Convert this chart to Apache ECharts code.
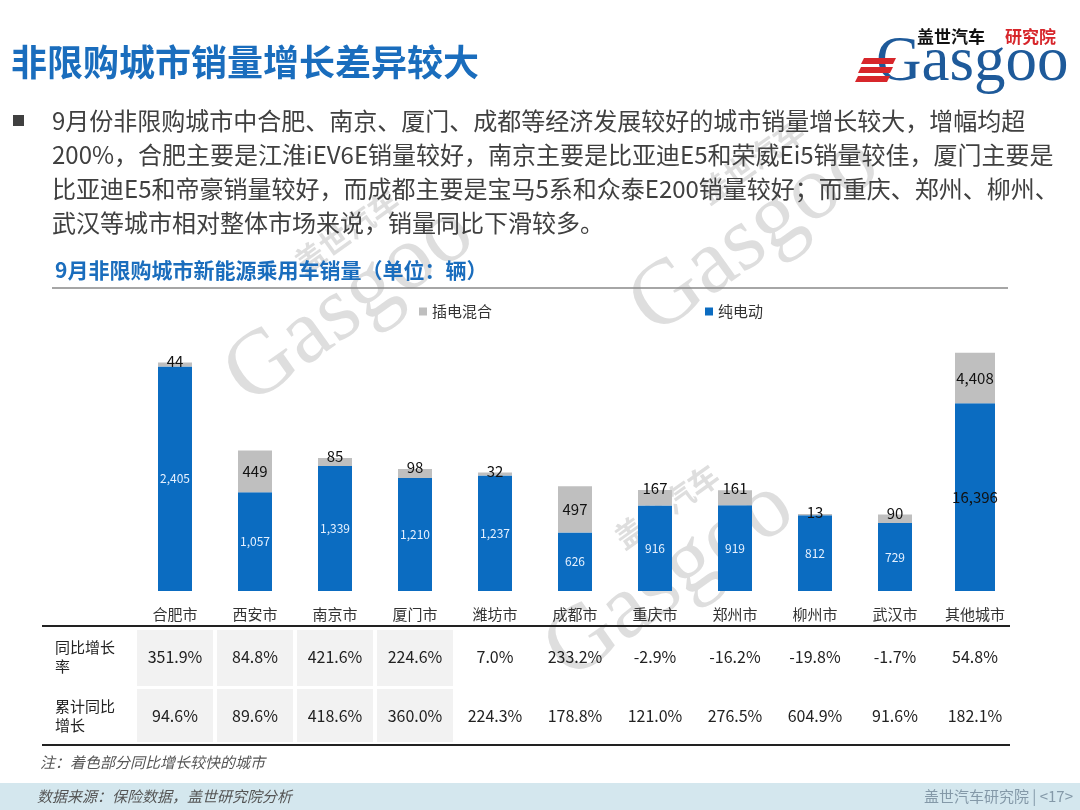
<!DOCTYPE html>
<html><head><meta charset="utf-8">
<script src="https://cdn.jsdelivr.net/npm/echarts@6/dist/echarts.min.js"></script>
<style>html,body{margin:0;padding:0;background:#fff}#c{width:1080px;height:810px}</style>
</head><body><div id="c"></div>
<script>
// ---------- data ----------
const categories = ['合肥市','西安市','南京市','厦门市','潍坊市','成都市','重庆市','郑州市','柳州市','武汉市','其他城市'];
const bevValues  = [2405, 1057, 1339, 1210, 1237, 626, 916, 919, 812, 729, 16396];
const phevValues = [44, 449, 85, 98, 32, 497, 167, 161, 13, 90, 4408];
const yoyGrowth  = [351.9, 84.8, 421.6, 224.6, 7.0, 233.2, -2.9, -16.2, -19.8, -1.7, 54.8];
const cumGrowth  = [94.6, 89.6, 418.6, 360.0, 224.3, 178.8, 121.0, 276.5, 604.9, 91.6, 182.1];
const highlightedCities = ['合肥市','西安市','南京市','厦门市'];
const separateScaleCategory = '其他城市';
const rowLabels = ['同比增长\n率', '累计同比\n增长'];
const seriesNames = ['纯电动', '插电混合'];
const titleText = '非限购城市销量增长差异较大';
const chartTitle = '9月非限购城市新能源乘用车销量（单位：辆）';
const bulletLines = [
  '9月份非限购城市中合肥、南京、厦门、成都等经济发展较好的城市销量增长较大，增幅均超',
  '200%，合肥主要是江淮iEV6E销量较好，南京主要是比亚迪E5和荣威Ei5销量较佳，厦门主要是',
  '比亚迪E5和帝豪销量较好，而成都主要是宝马5系和众泰E200销量较好；而重庆、郑州、柳州、',
  '武汉等城市相对整体市场来说，销量同比下滑较多。'
];
const noteText = '注：着色部分同比增长较快的城市';
const sourceText = '数据来源：保险数据，盖世研究院分析';
const pageText = '盖世汽车研究院 | <17>';

// ---------- chart ----------
const FONT = '"Noto Sans CJK SC","Noto Sans",sans-serif';
const BLUE = '#0b6cc1', GRAY = '#bfbfbf';
const fmt = v => Number(v).toLocaleString('en-US');
const isSep = i => categories[i] === separateScaleCategory;

const mainBev = bevValues.map((v, i) => isSep(i) ? '-' : v);
const mainPhev = phevValues.map((v, i) => isSep(i) ? '-' : ({
  value: v,
  label: v < 300 ? { position: 'top', distance: -6 } : { position: 'inside' }
}));
const sepBev = bevValues.map((v, i) => isSep(i) ? v : '-');
const sepPhev = phevValues.map((v, i) => isSep(i) ? v : '-');

const chart = echarts.init(document.getElementById('c'), null, { renderer: 'canvas' });
const labelDark = { show: true, color: '#111', fontSize: 15, fontFamily: FONT, formatter: p => fmt(p.value) };

chart.setOption({
  animation: false,
  textStyle: { fontFamily: FONT },
  grid: { left: 135, right: 65, top: 339, bottom: 219 },
  legend: [
    { data: ['插电混合'], left: 414, top: 299, icon: 'rect', itemWidth: 8, itemHeight: 8, itemGap: 4,
      selectedMode: false, textStyle: { fontSize: 15, color: '#333', fontFamily: FONT } },
    { data: ['纯电动'], left: 700, top: 299, icon: 'rect', itemWidth: 8, itemHeight: 8, itemGap: 4,
      selectedMode: false, textStyle: { fontSize: 15, color: '#333', fontFamily: FONT } }
  ],
  xAxis: [
    { type: 'category', data: categories, axisLine: { show: false }, axisTick: { show: false },
      axisLabel: { margin: 16, fontSize: 15, color: '#333', fontFamily: FONT, interval: 0 } },
    { type: 'category', data: categories, show: false }
  ],
  yAxis: [
    { type: 'value', min: 0, max: 2700, show: false, splitLine: { show: false } },
    { type: 'value', min: 0, max: 22000, show: false, splitLine: { show: false } }
  ],
  series: [
    { name: seriesNames[0], type: 'bar', stack: 'main', data: mainBev, barWidth: 34,
      itemStyle: { color: BLUE }, z: 3,
      label: { show: true, position: 'inside', color: '#e6f1ff', fontSize: 12, fontFamily: FONT, formatter: p => fmt(p.value) } },
    { name: seriesNames[1], type: 'bar', stack: 'main', data: mainPhev, barWidth: 34,
      itemStyle: { color: GRAY }, z: 3, label: labelDark },
    { name: seriesNames[0], type: 'bar', stack: 'sep', xAxisIndex: 1, yAxisIndex: 1, data: sepBev, barWidth: 40,
      itemStyle: { color: BLUE }, z: 3, label: Object.assign({ position: 'inside' }, labelDark) },
    { name: seriesNames[1], type: 'bar', stack: 'sep', xAxisIndex: 1, yAxisIndex: 1, data: sepPhev, barWidth: 40,
      itemStyle: { color: GRAY }, z: 3, label: Object.assign({ position: 'inside' }, labelDark) }
  ]
});

// ---------- page graphics ----------
const g = [];
const txt = (x, y, text, o) => Object.assign({ type: 'text', x, y, z: 10,
  style: Object.assign({ text, fill: '#333', fontSize: 15, fontFamily: FONT, textVerticalAlign: 'middle' }, o || {}) });

// watermarks
const wm = (x, y) => ({
  type: 'group', x, y, rotation: 0.62, z: 0,
  children: [
    { type: 'text', x: 0, y: 0, z: 0, style: { text: 'Gasgoo', fill: 'rgba(160,160,160,0.35)', fontSize: 92,
      fontFamily: '"Liberation Serif",serif', textAlign: 'center', textVerticalAlign: 'middle' } },
    { type: 'text', x: 40, y: -62, z: 0, style: { text: '盖世汽车', fill: 'rgba(160,160,160,0.35)', fontSize: 30,
      fontWeight: 'bold', fontFamily: FONT, textAlign: 'center', textVerticalAlign: 'middle' } }
  ]
});
g.push(wm(350, 305), wm(755, 235), wm(670, 580));

// title
g.push(txt(11, 62, titleText, { fill: '#1a6dbd', fontSize: 36, fontWeight: 'bold' }));
// logo
g.push(txt(917, 37, '盖世汽车', { fill: '#111', fontSize: 17, fontWeight: 'bold' }));
g.push(txt(1005, 37, '研究院', { fill: '#d7262b', fontSize: 17, fontWeight: 'bold' }));
g.push(txt(876, 63, 'Gasgoo', { fill: '#1e5a9a', fontSize: 63, fontFamily: '"Liberation Serif",serif' }));
[0, 1, 2].forEach(k => {
  const y = 58 + k * 9, dx = k * 3;
  g.push({ type: 'polygon', z: 11, shape: { points: [[864 - dx, y], [896 - dx, y], [893 - dx, y + 6], [861 - dx, y + 6]] },
    style: { fill: '#d7262b' } });
});

// bullet
g.push({ type: 'rect', z: 10, shape: { x: 13, y: 115, width: 11, height: 11 }, style: { fill: '#404040' } });
bulletLines.forEach((l, i) => g.push(txt(52, 121 + i * 34, l, { fill: '#404040', fontSize: 24 })));

// chart title
g.push(txt(55, 270, chartTitle, { fill: '#1a6dbd', fontSize: 21, fontWeight: 'bold' }));
g.push({ type: 'line', z: 10, shape: { x1: 52, y1: 288, x2: 1008, y2: 288 }, style: { stroke: '#888', lineWidth: 1.5 } });

// table
const rowY = [657, 716];
const rowBand = [[630, 56], [689, 53]];
g.push({ type: 'line', z: 10, shape: { x1: 42, y1: 626, x2: 1010, y2: 626 }, style: { stroke: '#222', lineWidth: 2 } });
g.push({ type: 'line', z: 10, shape: { x1: 42, y1: 745, x2: 1010, y2: 745 }, style: { stroke: '#222', lineWidth: 2 } });
rowLabels.forEach((l, r) => g.push(txt(55, rowY[r], l, { fontSize: 15, lineHeight: 19, fill: '#222' })));
const rows = [yoyGrowth, cumGrowth];
categories.forEach((c, i) => {
  const cx = chart.convertToPixel({ xAxisIndex: 0 }, c);
  rows.forEach((arr, r) => {
    if (highlightedCities.includes(c)) {
      g.push({ type: 'rect', z: 9, shape: { x: cx - 38, y: rowBand[r][0], width: 76, height: rowBand[r][1] },
        style: { fill: '#f2f2f2' } });
    }
    g.push(txt(cx, rowY[r], arr[i].toFixed(1) + '%', { fontSize: 16, fill: '#222', textAlign: 'center' }));
  });
});

// note
g.push(txt(40, 762, noteText, { fontSize: 15, fill: '#555', fontStyle: 'italic' }));
// footer
g.push({ type: 'rect', z: 8, shape: { x: 0, y: 783, width: 1080, height: 27 }, style: { fill: '#d4e7ee' } });
g.push(txt(37, 796, sourceText, { fontSize: 15, fill: '#555', fontStyle: 'italic' }));
g.push(txt(1073, 796, pageText, { fontSize: 15, fill: '#8499a8', textAlign: 'right' }));

chart.setOption({ graphic: g });
</script>
</body></html>
